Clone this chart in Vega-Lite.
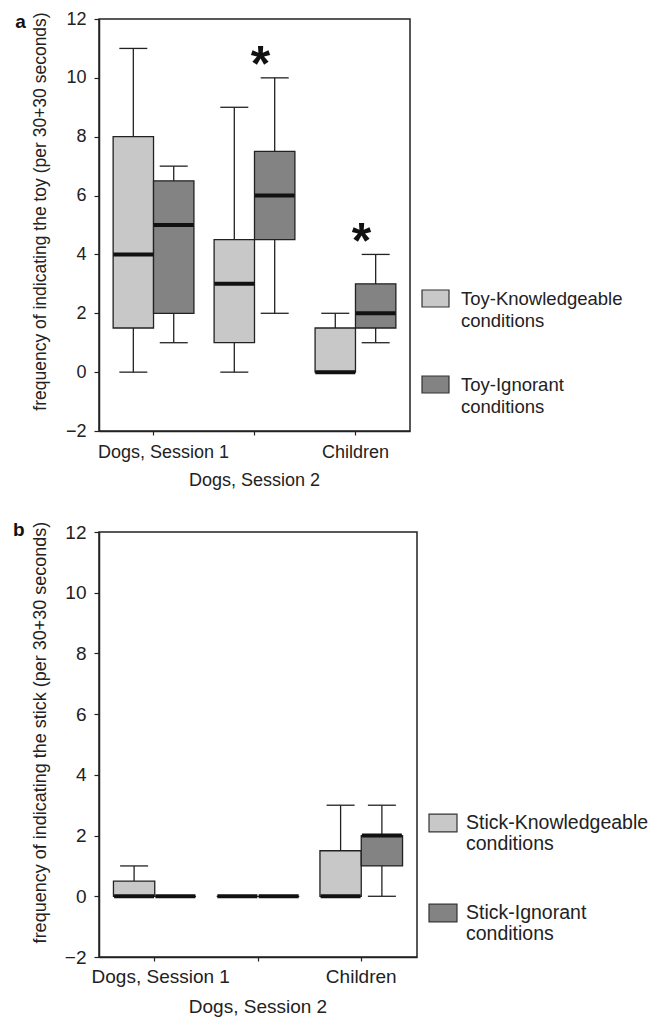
{
  "$schema": "https://vega.github.io/schema/vega-lite/v6.json",
  "background": "white",
  "padding": {"left": 12, "top": 9, "right": 0, "bottom": 0},
  "config": {
    "font": "Liberation Sans",
    "view": {"stroke": "#222", "strokeWidth": 1.5},
    "axis": {"domainColor": "#222", "domainWidth": 1.5, "tickColor": "#222", "tickWidth": 1.2, "labelColor": "#222", "titleColor": "#222", "grid": false, "titleFontWeight": "normal", "labelOverlap": false},
    "legend": {"padding": 0, "titleFontSize": 0},
    "tick": {"opacity": 1}
  },
  "datasets": {
    "boxes": [
      {"panel": "a", "group": "Dogs, Session 1", "cond": "K", "label": "Toy-Knowledgeable\nconditions", "min": 0, "q1": 1.5, "median": 4, "q3": 8, "max": 11},
      {"panel": "a", "group": "Dogs, Session 1", "cond": "I", "label": "Toy-Ignorant\nconditions", "min": 1, "q1": 2, "median": 5, "q3": 6.5, "max": 7},
      {"panel": "a", "group": "Dogs, Session 2", "cond": "K", "label": "Toy-Knowledgeable\nconditions", "min": 0, "q1": 1, "median": 3, "q3": 4.5, "max": 9},
      {"panel": "a", "group": "Dogs, Session 2", "cond": "I", "label": "Toy-Ignorant\nconditions", "min": 2, "q1": 4.5, "median": 6, "q3": 7.5, "max": 10},
      {"panel": "a", "group": "Children", "cond": "K", "label": "Toy-Knowledgeable\nconditions", "min": 0, "q1": 0, "median": 0, "q3": 1.5, "max": 2},
      {"panel": "a", "group": "Children", "cond": "I", "label": "Toy-Ignorant\nconditions", "min": 1, "q1": 1.5, "median": 2, "q3": 3, "max": 4},
      {"panel": "b", "group": "Dogs, Session 1", "cond": "K", "label": "Stick-Knowledgeable\nconditions", "min": 0, "q1": 0, "median": 0, "q3": 0.5, "max": 1},
      {"panel": "b", "group": "Dogs, Session 1", "cond": "I", "label": "Stick-Ignorant\nconditions", "min": 0, "q1": 0, "median": 0, "q3": 0, "max": 0},
      {"panel": "b", "group": "Dogs, Session 2", "cond": "K", "label": "Stick-Knowledgeable\nconditions", "min": 0, "q1": 0, "median": 0, "q3": 0, "max": 0},
      {"panel": "b", "group": "Dogs, Session 2", "cond": "I", "label": "Stick-Ignorant\nconditions", "min": 0, "q1": 0, "median": 0, "q3": 0, "max": 0},
      {"panel": "b", "group": "Children", "cond": "K", "label": "Stick-Knowledgeable\nconditions", "min": 0, "q1": 0, "median": 0, "q3": 1.5, "max": 3},
      {"panel": "b", "group": "Children", "cond": "I", "label": "Stick-Ignorant\nconditions", "min": 0, "q1": 1, "median": 2, "q3": 2, "max": 3}
    ],
    "stars": [
      {"panel": "a", "group": "Dogs, Session 2", "y": 10.7},
      {"panel": "a", "group": "Children", "y": 4.7}
    ]
  },
  "spacing": 30,
  "resolve": {"scale": {"x": "independent", "y": "independent", "xOffset": "independent", "color": "independent"}, "legend": {"color": "independent"}},
  "vconcat": [
    {
      "title": {"text": "a", "orient": "left", "anchor": "end", "angle": 0, "align": "right", "baseline": "alphabetic", "fontSize": 19, "fontWeight": "bold", "offset": -5, "frame": "group", "dy": 9, "color": "#111"},
      "width": 311,
      "height": 412,
      "data": {"name": "boxes"},
      "transform": [{"filter": "datum.panel === 'a'"}],
      "encoding": {
        "x": {"field": "group", "type": "nominal", "sort": ["Dogs, Session 1", "Dogs, Session 2", "Children"], "scale": {"paddingInner": 0.2, "paddingOuter": 0.14},
          "axis": {"title": null, "labelAngle": 0, "labelFontSize": 18, "tickSize": 4, "labelBaseline": "top",
            "labelPadding": {"condition": {"test": "datum.value === 'Dogs, Session 2'", "value": 36}, "value": 8},
            "labelOffset": {"condition": {"test": "datum.value === 'Dogs, Session 1'", "value": 10}, "value": 0}}}
      },
      "layer": [
        {"mark": {"type": "rule", "color": "#222", "strokeWidth": 1.3},
          "encoding": {"xOffset": {"field": "cond", "sort": ["K", "I"], "scale": {"paddingInner": 0, "paddingOuter": 0}},
            "y": {"field": "min", "type": "quantitative", "scale": {"domain": [-2, 12], "nice": false},
              "axis": {"values": [-2, 0, 2, 4, 6, 8, 10, 12], "title": "frequency of indicating the toy (per 30+30 seconds)", "titleFontSize": 17.5, "labelFontSize": 18, "tickSize": 5, "labelPadding": 8, "titlePadding": 16, "titleY": 192}},
            "y2": {"field": "max"}}},
        {"mark": {"type": "tick", "color": "#222", "size": 28, "thickness": 1.3},
          "encoding": {"xOffset": {"field": "cond", "sort": ["K", "I"]}, "y": {"field": "min", "type": "quantitative"}}},
        {"mark": {"type": "tick", "color": "#222", "size": 28, "thickness": 1.3},
          "encoding": {"xOffset": {"field": "cond", "sort": ["K", "I"]}, "y": {"field": "max", "type": "quantitative"}}},
        {"mark": {"type": "bar", "stroke": "#222", "strokeWidth": 1.3},
          "encoding": {"xOffset": {"field": "cond", "sort": ["K", "I"]},
            "y": {"field": "q1", "type": "quantitative"}, "y2": {"field": "q3"},
            "color": {"field": "label", "type": "nominal", "scale": {"domain": ["Toy-Knowledgeable\nconditions", "Toy-Ignorant\nconditions"], "range": ["#c8c8c8", "#838383"]},
              "legend": {"orient": "none", "legendX": 322, "legendY": 265, "title": null, "symbolType": "M-1,-0.63H1V0.63H-1Z", "symbolSize": 729, "labelExpr": "split(datum.label, '\\n')", "labelFontSize": 18.5, "labelColor": "#222", "labelOffset": 11, "rowPadding": 40, "labelLimit": 0, "symbolStrokeColor": "#333", "symbolStrokeWidth": 1.2, "symbolOpacity": 1,
                "encode": {"labels": {"update": {"lineHeight": {"value": 22}}}}}}}},
        {"mark": {"type": "tick", "color": "#111", "size": 40, "thickness": 4, "opacity": 1},
          "encoding": {"xOffset": {"field": "cond", "sort": ["K", "I"]}, "y": {"field": "median", "type": "quantitative"}}},
        {"data": {"name": "stars"}, "transform": [{"filter": "datum.panel === 'a'"}],
          "mark": {"type": "text", "text": "*", "font": "Liberation Sans", "fontSize": 50, "fontWeight": "bold", "baseline": "middle", "align": "center", "dx": 6, "dy": 9, "color": "#111"},
          "encoding": {"y": {"field": "y", "type": "quantitative"}}}
      ]
    },
    {
      "title": {"text": "b", "orient": "left", "anchor": "end", "angle": 0, "align": "right", "baseline": "alphabetic", "fontSize": 19, "fontWeight": "bold", "offset": -5, "frame": "group", "dy": 4, "color": "#111"},
      "width": 318,
      "height": 425,
      "data": {"name": "boxes"},
      "transform": [{"filter": "datum.panel === 'b'"}],
      "encoding": {
        "x": {"field": "group", "type": "nominal", "sort": ["Dogs, Session 1", "Dogs, Session 2", "Children"], "scale": {"paddingInner": 0.2, "paddingOuter": 0.14},
          "axis": {"title": null, "labelAngle": 0, "labelFontSize": 19, "tickSize": 4, "labelBaseline": "top",
            "labelPadding": {"condition": {"test": "datum.value === 'Dogs, Session 2'", "value": 36}, "value": 6},
            "labelOffset": {"condition": {"test": "datum.value === 'Dogs, Session 1'", "value": 6}, "value": 0}}}
      },
      "layer": [
        {"mark": {"type": "rule", "color": "#222", "strokeWidth": 1.3},
          "encoding": {"xOffset": {"field": "cond", "sort": ["K", "I"], "scale": {"paddingInner": 0, "paddingOuter": 0}},
            "y": {"field": "min", "type": "quantitative", "scale": {"domain": [-2, 12], "nice": false},
              "axis": {"values": [-2, 0, 2, 4, 6, 8, 10, 12], "title": "frequency of indicating the stick (per 30+30 seconds)", "titleFontSize": 18, "labelFontSize": 19, "tickSize": 5, "labelPadding": 8, "titlePadding": 15, "titleY": 200}},
            "y2": {"field": "max"}}},
        {"mark": {"type": "tick", "color": "#222", "size": 28, "thickness": 1.3},
          "encoding": {"xOffset": {"field": "cond", "sort": ["K", "I"]}, "y": {"field": "min", "type": "quantitative"}}},
        {"mark": {"type": "tick", "color": "#222", "size": 28, "thickness": 1.3},
          "encoding": {"xOffset": {"field": "cond", "sort": ["K", "I"]}, "y": {"field": "max", "type": "quantitative"}}},
        {"mark": {"type": "bar", "stroke": "#222", "strokeWidth": 1.3},
          "encoding": {"xOffset": {"field": "cond", "sort": ["K", "I"]},
            "y": {"field": "q1", "type": "quantitative"}, "y2": {"field": "q3"},
            "color": {"field": "label", "type": "nominal", "scale": {"domain": ["Stick-Knowledgeable\nconditions", "Stick-Ignorant\nconditions"], "range": ["#c8c8c8", "#838383"]},
              "legend": {"orient": "none", "legendX": 329, "legendY": 276, "title": null, "symbolType": "M-1,-0.63H1V0.63H-1Z", "symbolSize": 784, "labelExpr": "split(datum.label, '\\n')", "labelFontSize": 19.5, "labelColor": "#222", "labelOffset": 8, "rowPadding": 44, "labelLimit": 0, "symbolStrokeColor": "#333", "symbolStrokeWidth": 1.2, "symbolOpacity": 1,
                "encode": {"labels": {"update": {"lineHeight": {"value": 21}}}}}}}},
        {"mark": {"type": "tick", "color": "#111", "size": 40, "thickness": 4, "opacity": 1},
          "encoding": {"xOffset": {"field": "cond", "sort": ["K", "I"]}, "y": {"field": "median", "type": "quantitative"}}}
      ]
    }
  ]
}
